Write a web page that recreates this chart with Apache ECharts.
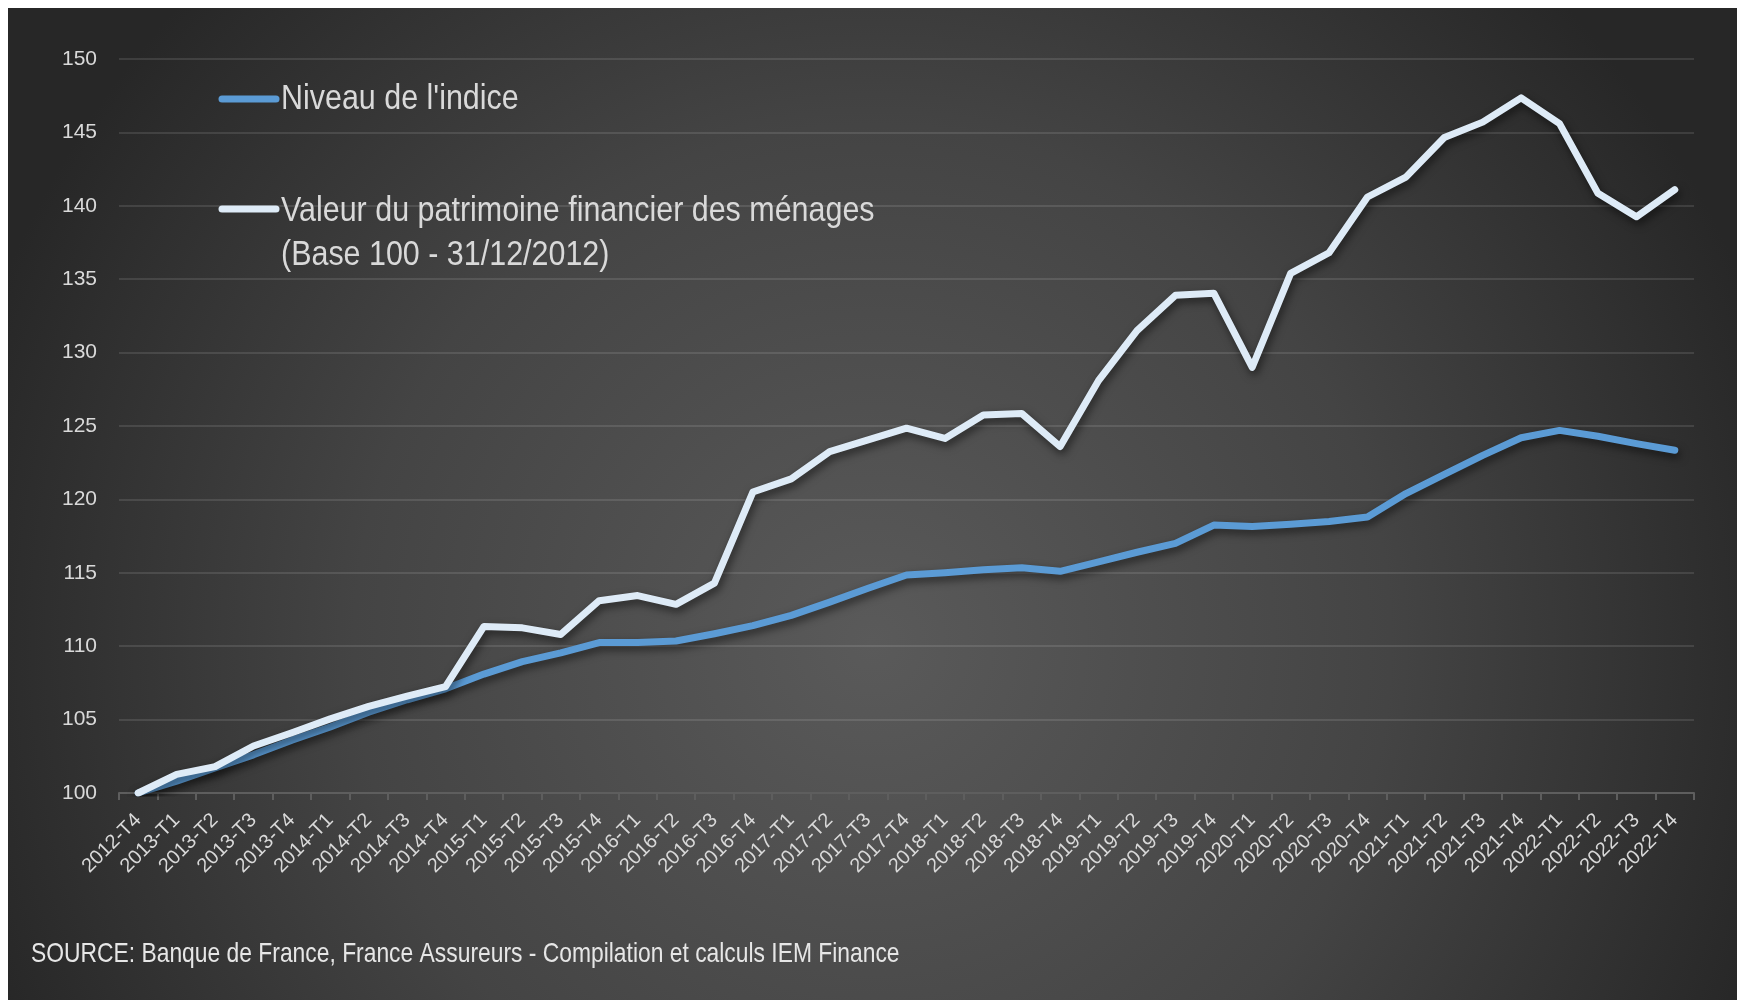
<!DOCTYPE html>
<html>
<head>
<meta charset="utf-8">
<script src="https://cdn.jsdelivr.net/npm/echarts@6/dist/echarts.min.js"></script>
<style>
  html, body { margin: 0; padding: 0; background: #fff; }
  #chart { width: 1741px; height: 1000px; }
</style>
</head>
<body>
<div id="chart"></div>
<script>
// trimestres
const categories = [
  "2012-T4",
  "2013-T1", "2013-T2", "2013-T3", "2013-T4",
  "2014-T1", "2014-T2", "2014-T3", "2014-T4",
  "2015-T1", "2015-T2", "2015-T3", "2015-T4",
  "2016-T1", "2016-T2", "2016-T3", "2016-T4",
  "2017-T1", "2017-T2", "2017-T3", "2017-T4",
  "2018-T1", "2018-T2", "2018-T3", "2018-T4",
  "2019-T1", "2019-T2", "2019-T3", "2019-T4",
  "2020-T1", "2020-T2", "2020-T3", "2020-T4",
  "2021-T1", "2021-T2", "2021-T3", "2021-T4",
  "2022-T1", "2022-T2", "2022-T3", "2022-T4",
];
// Niveau de l'indice (base 100)
const niveauIndice = [
  100, 100.8, 101.7, 102.6, 103.6, 104.5, 105.5, 106.35, 107.1,
  108.1, 108.95, 109.55, 110.25, 110.25, 110.35, 110.85, 111.4,
  112.1, 113.0, 113.95, 114.85, 115.0, 115.2, 115.35, 115.1,
  115.75, 116.4, 117.0, 118.25, 118.15, 118.3, 118.5, 118.8,
  120.4, 121.7, 123.0, 124.2, 124.7, 124.3, 123.8, 123.35,
];
// Valeur du patrimoine financier des ménages (base 100)
const valeurPatrimoine = [
  100, 101.27, 101.8, 103.2, 104.1, 105.05, 105.9, 106.6, 107.25,
  111.35, 111.25, 110.8, 113.1, 113.45, 112.85, 114.3, 120.5,
  121.4, 123.25, 124.05, 124.85, 124.15, 125.75, 125.85, 123.6,
  128.1, 131.5, 133.9, 134.05, 129.0, 135.4, 136.8, 140.6,
  141.95, 144.65, 145.7, 147.35, 145.6, 140.85, 139.25, 141.1,
];
const legendNames = [
  "Niveau de l'indice",
  "Valeur du patrimoine financier des ménages\n(Base 100 - 31/12/2012)",
];
const sourceText = "SOURCE: Banque de France, France Assureurs - Compilation et calculs IEM Finance";

// pas de police "narrow" installée : on compresse le texte horizontalement
const FONT = "'Liberation Sans', Arial, sans-serif";
const BLUE = "#5B9BD5";
const WHITE = "#DEEBF7";
const TEXT = "#D9D9D9";

const chart = echarts.init(document.getElementById("chart"));

const lineShadow = {
  shadowColor: "rgba(0,0,0,0.55)",
  shadowBlur: 8,
  shadowOffsetX: 2,
  shadowOffsetY: 4,
};

const option = {
  animation: false,
  backgroundColor: "#ffffff",
  grid: { left: 119, right: 47, top: 59, bottom: 207 },
  xAxis: {
    type: "category",
    data: categories,
    boundaryGap: true,
    axisLine: { lineStyle: { color: "#5e5e5e", width: 2 } },
    axisTick: { show: true, length: 7, lineStyle: { color: "#5e5e5e", width: 2 } },
    axisLabel: {
      interval: 0,
      rotate: 45,
      margin: 24,
      color: TEXT,
      fontFamily: FONT,
      fontSize: 20,
    },
    splitLine: { show: false },
  },
  yAxis: {
    type: "value",
    min: 100,
    max: 150,
    interval: 5,
    axisLine: { show: false },
    axisTick: { show: false },
    axisLabel: { margin: 22, color: TEXT, fontFamily: FONT, fontSize: 21 },
    splitLine: { lineStyle: { color: "rgba(255,255,255,0.11)", width: 2 } },
  },
  series: [
    {
      name: legendNames[0],
      type: "line",
      data: niveauIndice,
      symbol: "none",
      z: 3,
      lineStyle: Object.assign({ color: BLUE, width: 7, cap: "round", join: "round" }, lineShadow),
    },
    {
      name: legendNames[1],
      type: "line",
      data: valeurPatrimoine,
      symbol: "none",
      z: 4,
      lineStyle: Object.assign({ color: WHITE, width: 7, cap: "round", join: "round" }, lineShadow),
    },
  ],
  graphic: [
    // fond sombre en dégradé
    {
      type: "rect",
      z: -10,
      silent: true,
      shape: { x: 8, y: 8, width: 1729, height: 992 },
      style: {
        fill: new echarts.graphic.RadialGradient(0.5, 0.64, 0.95, [
          { offset: 0, color: "#5a5a5a" },
          { offset: 0.55, color: "#444444" },
          { offset: 1, color: "#272727" },
        ]),
      },
    },
    // légende
    {
      type: "line",
      z: 10,
      shape: { x1: 222, y1: 99, x2: 276, y2: 99 },
      style: { stroke: BLUE, lineWidth: 7, lineCap: "round" },
    },
    {
      type: "text",
      z: 10,
      x: 281,
      y: 99,
      scaleX: 0.87,
      style: {
        text: legendNames[0],
        fill: TEXT,
        font: "35px " + FONT,
        verticalAlign: "middle",
      },
    },
    {
      type: "line",
      z: 10,
      shape: { x1: 222, y1: 209, x2: 276, y2: 209 },
      style: { stroke: WHITE, lineWidth: 7, lineCap: "round" },
    },
    {
      type: "text",
      z: 10,
      x: 281,
      y: 189,
      scaleX: 0.87,
      style: {
        text: legendNames[1],
        fill: TEXT,
        font: "35px " + FONT,
        lineHeight: 44,
        verticalAlign: "top",
      },
    },
    // source
    {
      type: "text",
      z: 10,
      x: 31,
      y: 954,
      scaleX: 0.816,
      style: {
        text: sourceText,
        fill: "#E6E6E6",
        font: "28px " + FONT,
        verticalAlign: "middle",
      },
    },
  ],
};

chart.setOption(option);
</script>
</body>
</html>
